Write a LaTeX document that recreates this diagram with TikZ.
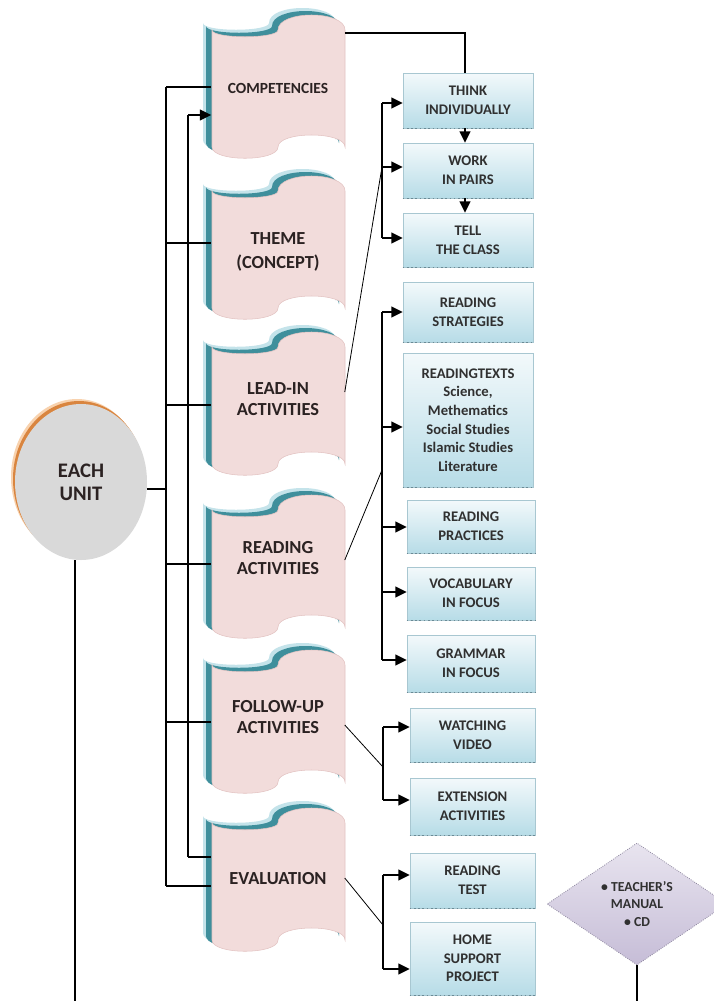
\documentclass[tikz,border=0pt]{standalone}
\usepackage{fontspec}
\setmainfont{Carlito}
\usetikzlibrary{arrows.meta,shapes.geometric}
\definecolor{pinkfill}{HTML}{F2DCDB}
\definecolor{pinkedge}{HTML}{E3C3C2}
\definecolor{tealsh}{HTML}{3F8F9C}
\definecolor{fringe}{HTML}{C4E3EA}
\definecolor{boxtop}{HTML}{F3F9FB}
\definecolor{boxbot}{HTML}{B7DCE7}
\definecolor{boxedge}{HTML}{A8C7D1}
\definecolor{dotcol}{HTML}{6A8A95}
\definecolor{unitgray}{HTML}{D9D9D9}
\definecolor{unitorange}{HTML}{D9853F}
\definecolor{unitfringe}{HTML}{F8D2AE}
\definecolor{lavtop}{HTML}{E8E4EF}
\definecolor{lavbot}{HTML}{C6BDD7}
\definecolor{lavedge}{HTML}{8F88A0}
\definecolor{txtdark}{HTML}{2B2222}
\definecolor{txtbox}{HTML}{303030}

\newcommand\scrollpath{(-66,-55) .. controls (-66,-46) and (0,-46) .. (0,-55) .. controls (0,-75) and (67,-75) .. (67,-55) -- (67,62) .. controls (67,46) and (0,46) .. (0,62) .. controls (0,77) and (-66,77) .. (-66,62) -- cycle}

% name, cx, cy (shape), ty (text), style, text
\newcommand\scrollbox[6]{%
  \begin{scope}[shift={(#2,#3)}]
    \fill[fringe, shift={(-9,-7)}] \scrollpath;
    \fill[tealsh, shift={(-6,-4)}] \scrollpath;
    \fill[pinkfill, draw=pinkedge, line width=0.4pt] \scrollpath;
  \end{scope}
  \node[stext, #5] (#1) at (#2,#4) {#6};
}

% name, x1, y1, x2, y2, text
\newcommand\bluebox[6]{%
  \pgfmathsetmacro\bxw{(#4-#2)*0.75}%
  \pgfmathsetmacro\bxh{(#5-#3)*0.75}%
  \node[bbox, minimum width=\bxw pt, minimum height=\bxh pt] (#1) at ({(#2+#4)/2},{(#3+#5)/2}) {#6};
  \draw[botdot] (#1.south west) -- (#1.south east);
}

\tikzset{
  conn/.style={line width=1.4pt, black},
  arr/.style={conn, -{Triangle[length=8.5pt,width=8pt]}},
  diag/.style={line width=0.6pt, black},
  stext/.style={minimum width=99.75pt, minimum height=90pt, inner sep=0pt, align=center, text=txtdark},
  sfA/.style={font=\bfseries\fontsize{11.6}{14}\selectfont},
  sfB/.style={font=\bfseries\fontsize{13.8}{16}\selectfont},
  sfC/.style={font=\bfseries\fontsize{13.8}{18}\selectfont},
  bbox/.style={draw=boxedge, line width=0.5pt, top color=boxtop, bottom color=boxbot, inner sep=0pt, align=center, text=txtbox, font=\bfseries\fontsize{11}{14}\selectfont},
  botdot/.style={dotcol, dotted, line width=1.2pt},
}

\begin{document}
\begin{tikzpicture}[x=0.75pt,y=-0.75pt]
\clip (0,0) rectangle (714,1001);
\fill[white] (0,0) rectangle (714,1001);

% ---- EACH UNIT
\fill[unitfringe] (77,477) ellipse [x radius=66, y radius=78];
\fill[unitorange] (79,479) ellipse [x radius=66, y radius=78];
\node[ellipse, fill=unitgray, minimum width=99pt, minimum height=117pt, inner sep=0pt, align=center, text=txtdark, font=\bfseries\fontsize{15.5}{17.5}\selectfont] (unit) at (81,482) {EACH\\UNIT};

% ---- scrolls
\scrollbox{comp}{278}{85}{88}{sfA}{COMPETENCIES}
\scrollbox{theme}{278}{246}{252}{sfC}{THEME\\(CONCEPT)}
\scrollbox{lead}{278}{402}{399}{sfB}{LEAD-IN\\ACTIVITIES}
\scrollbox{read}{278}{565}{558}{sfB}{READING\\ACTIVITIES}
\scrollbox{follow}{278}{720}{717}{sfB}{FOLLOW-UP\\ACTIVITIES}
\scrollbox{eval}{278}{878}{879}{sfB}{EVALUATION}

% ---- trunks
\coordinate (t1a) at (166,87);
\coordinate (t1b) at (166,243);
\coordinate (t1c) at (166,405);
\coordinate (t1d) at (166,564);
\coordinate (t1e) at (166,722);
\coordinate (t1f) at (166,886);
\coordinate (t2a) at (188,115);
\coordinate (t2b) at (188,857);

\draw[conn] (unit.-6) -- (unit.-6 -| t1a);
\draw[conn] (t1a) -- (t1f);
\draw[conn] (t2a) -- (t2b);
\draw[conn] (t1a) -- (t1a -| comp.west);
\draw[conn] (t1b) -- (t1b -| theme.west);
\draw[conn] (t1c) -- (t1c -| lead.west);
\draw[conn] (t1d) -- (t1d -| read.west);
\draw[conn] (t1e) -- (t1e -| follow.west);
\draw[conn] (t1f) -- (t1f -| eval.west);
\draw[conn] (t2b) -- (t2b -| eval.west);
\draw[arr] (t2a) -- (t2a -| comp.west);

% ---- blue boxes
\bluebox{think}{403}{73}{533}{128}{THINK\\INDIVIDUALLY}
\bluebox{work}{403}{143}{533}{198}{WORK\\IN PAIRS}
\bluebox{tell}{403}{213}{533}{267}{TELL\\THE CLASS}
\bluebox{rstrat}{403}{282}{533}{342}{READING\\STRATEGIES}
\bluebox{rtexts}{403}{353}{533}{487}{READINGTEXTS\\Science,\\Methematics\\Social Studies\\Islamic Studies\\Literature}
\bluebox{rprac}{407}{500}{535}{553}{READING\\PRACTICES}
\bluebox{vocab}{407}{567}{535}{620}{VOCABULARY\\IN FOCUS}
\bluebox{gram}{407}{635}{535}{692}{GRAMMAR\\IN FOCUS}
\bluebox{watch}{410}{708}{535}{762}{WATCHING\\VIDEO}
\bluebox{ext}{410}{778}{535}{835}{EXTENSION\\ACTIVITIES}
\bluebox{rtest}{410}{853}{535}{908}{READING\\TEST}
\bluebox{home}{410}{922}{535}{995}{HOME\\SUPPORT\\PROJECT}

% ---- competencies -> think
\coordinate (ctop) at (465,33);
\draw[conn] (ctop -| comp.east) -- (ctop) -- (ctop |- think.north);
\draw[arr] (think.south -| ctop) -- (work.north -| ctop);
\draw[arr] (work.south -| ctop) -- (tell.north -| ctop);

% ---- lead-in group
\coordinate (lc1) at (382,103);
\coordinate (lc2) at (382,167);
\coordinate (lc3) at (382,238);
\draw[conn] (lc1) -- (lc3);
\draw[arr] (lc1) -- (lc1 -| think.west);
\draw[arr] (lc2) -- (lc2 -| work.west);
\draw[arr] (lc3) -- (lc3 -| tell.west);
\draw[diag] (lead.east |- 0,392) -- (lc2);

% ---- reading group
\coordinate (rc1) at (382,312);
\coordinate (rc2) at (382,427);
\coordinate (rc3) at (382,527);
\coordinate (rc4) at (382,592);
\coordinate (rc5) at (382,660);
\coordinate (rcm) at (382,470);
\draw[conn] (rc1) -- (rc5);
\draw[arr] (rc1) -- (rc1 -| rstrat.west);
\draw[arr] (rc2) -- (rc2 -| rtexts.west);
\draw[arr] (rc3) -- (rc3 -| rprac.west);
\draw[arr] (rc4) -- (rc4 -| vocab.west);
\draw[arr] (rc5) -- (rc5 -| gram.west);
\draw[diag] (read.east |- 0,560) -- (rcm);

% ---- follow-up group
\coordinate (fc1) at (383,727);
\coordinate (fc2) at (383,800);
\coordinate (fcm) at (383,767);
\draw[conn] (fc1) -- (fc2);
\draw[arr] (fc1) -- (fc1 -| watch.west);
\draw[arr] (fc2) -- (fc2 -| ext.west);
\draw[diag] (follow.east |- 0,725) -- (fcm);

% ---- evaluation group
\coordinate (ec1) at (383,875);
\coordinate (ec2) at (383,969);
\coordinate (ecm) at (383,925);
\draw[conn] (ec1) -- (ec2);
\draw[arr] (ec1) -- (ec1 -| rtest.west);
\draw[arr] (ec2) -- (ec2 -| home.west);
\draw[diag] (eval.east |- 0,878) -- (ecm);

% ---- teacher's manual diamond
\node[diamond, draw=lavedge, densely dotted, line width=0.6pt, top color=lavtop, bottom color=lavbot, minimum width=135pt, minimum height=91.5pt, inner sep=0pt] (tm) at (637,904) {};
\node[align=center, text=txtbox, inner sep=0pt, font=\bfseries\fontsize{10.3}{12.8}\selectfont] (tmt) at (637,904) {• TEACHER’S\\MANUAL\\• CD};

% ---- bottom lines
\coordinate (ubot) at (75,1001);
\coordinate (dbot) at (637,1001);
\draw[conn] (ubot |- unit.south) -- (ubot);
\draw[conn] (tm.south) -- (dbot);
\end{tikzpicture}
\end{document}
